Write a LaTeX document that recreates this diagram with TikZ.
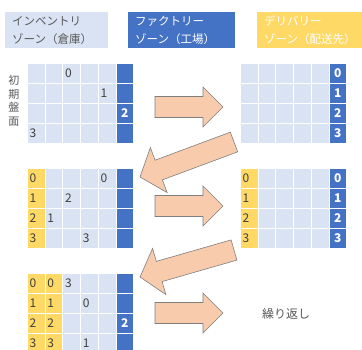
\documentclass[tikz,border=0pt]{standalone}
\usepackage{fontspec}
\setmainfont{Noto Sans CJK JP}
\usetikzlibrary{calc}
\definecolor{lightc}{HTML}{DAE3F3}
\definecolor{bluec}{HTML}{4472C4}
\definecolor{yelc}{HTML}{FFD966}
\definecolor{arrowc}{HTML}{F8CBAD}
\definecolor{arrowl}{HTML}{7F7F7F}
\definecolor{txtc}{HTML}{404040}
\definecolor{legtxt}{HTML}{595959}

% grid: name, x, y, number of yellow columns
\newcommand\mygrid[4]{%
  \foreach \c in {0,...,4}{\foreach \r in {0,...,3}{%
    \ifnum\c<#4\relax\def\fc{yelc}\else\def\fc{lightc}\fi
    \node[cellbox, fill=\fc, anchor=north west] (#1-\c-\r) at ({#2+\c*17.7},{#3+\r*20}) {};}}
  \foreach \r in {0,...,3}{%
    \node[cellbox, fill=bluec, anchor=north west] (#1-5-\r) at ({#2+5*17.7},{#3+\r*20}) {};}%
}
\newcommand\numL[2]{\node[numlight, anchor=west] (#1-t) at ($(#1.west)+(2.5,0)$) {#2};}
\newcommand\numB[2]{\node[numblue] (#1-t) at (#1.center) {#2};}
% block arrow: tail, tip, neck coordinate name, head half width
\newcommand\barrow[4]{%
  \coordinate (#3) at ($(#2)!20pt!(#1)$);
  \draw[blockarrow] ($(#1)!10.5pt!90:(#2)$) -- ($(#3)!10.5pt!-90:(#1)$) -- ($(#3)!#4pt!-90:(#1)$)
    -- (#2) -- ($(#3)!#4pt!90:(#1)$) -- ($(#3)!10.5pt!90:(#1)$) -- ($(#1)!10.5pt!-90:(#2)$) -- cycle;
}

\begin{document}
\begin{tikzpicture}[x=1pt,y=-1pt,
  cellbox/.style={rectangle, minimum width=17.7pt, minimum height=20pt, inner sep=0pt, draw=white, line width=0.8pt},
  numlight/.style={inner sep=0pt, font=\fontsize{12}{12}\selectfont, text=txtc},
  numblue/.style={inner sep=0pt, font=\fontsize{12}{12}\selectfont\bfseries, text=white},
  legendbox/.style={rectangle, anchor=north west, minimum height=36pt, inner xsep=7pt, inner ysep=0pt, align=left, font=\fontsize{11.5}{18}\selectfont},
  blockarrow/.style={fill=arrowc, draw=arrowl, line width=0.6pt, line join=miter},
]
\path[use as bounding box] (0,0) rectangle (362,349);
\clip (0,0) rectangle (362,349);

% legend
\node[legendbox, fill=lightc, text=legtxt, text width=89pt] (lg1) at (5,12) {インベントリ\\ゾーン（倉庫）};
\node[legendbox, fill=bluec, text=white, text width=93pt] (lg2) at (128,12) {ファクトリー\\ゾーン（工場）};
\node[legendbox, fill=yelc, text=white, text width=96pt] (lg3) at (257,12) {デリバリー\\ゾーン（配送先）};

% side label
\node[align=center, inner sep=0pt, text=legtxt, font=\fontsize{11}{13.5}\selectfont] (lbl) at (14,101) {初\\期\\盤\\面};

% arrows
\coordinate (r1t) at (155,107); \coordinate (r1h) at (223,107);
\coordinate (r2t) at (155,206); \coordinate (r2h) at (223,206);
\coordinate (r3t) at (155,313); \coordinate (r3h) at (223,313);
\coordinate (d1t) at (234,142); \coordinate (d1h) at (140,177);
\coordinate (d2t) at (234,250); \coordinate (d2h) at (140,277);
\barrow{r1t}{r1h}{r1n}{20}
\barrow{r2t}{r2h}{r2n}{20}
\barrow{r3t}{r3h}{r3n}{20}
\barrow{d1t}{d1h}{d1n}{24}
\barrow{d2t}{d2h}{d2n}{24}

% grid 1 (initial)
\mygrid{ga}{27}{63}{0}
\numL{ga-2-0}{0}
\numL{ga-4-1}{1}
\numB{ga-5-2}{2}
\numL{ga-0-3}{3}

% grid 2
\mygrid{gb}{240}{63}{0}
\numB{gb-5-0}{0}
\numB{gb-5-1}{1}
\numB{gb-5-2}{2}
\numB{gb-5-3}{3}

% grid 3
\mygrid{gc}{27}{168}{1}
\numL{gc-0-0}{0}
\numL{gc-0-1}{1}
\numL{gc-0-2}{2}
\numL{gc-0-3}{3}
\numL{gc-4-0}{0}
\numL{gc-2-1}{2}
\numL{gc-1-2}{1}
\numL{gc-3-3}{3}

% grid 4
\mygrid{gd}{240}{168}{1}
\numL{gd-0-0}{0}
\numL{gd-0-1}{1}
\numL{gd-0-2}{2}
\numL{gd-0-3}{3}
\numB{gd-5-0}{0}
\numB{gd-5-1}{1}
\numB{gd-5-2}{2}
\numB{gd-5-3}{3}

% grid 5
\mygrid{ge}{27}{273}{2}
\numL{ge-0-0}{0}
\numL{ge-0-1}{1}
\numL{ge-0-2}{2}
\numL{ge-0-3}{3}
\numL{ge-1-0}{0}
\numL{ge-1-1}{1}
\numL{ge-1-2}{2}
\numL{ge-1-3}{3}
\numL{ge-2-0}{3}
\numL{ge-3-1}{0}
\numB{ge-5-2}{2}
\numL{ge-3-3}{1}

% repeat
\node[inner sep=0pt, text=legtxt, font=\fontsize{12}{12}\selectfont] (rep) at (286,313.5) {繰り返し};
\end{tikzpicture}
\end{document}
